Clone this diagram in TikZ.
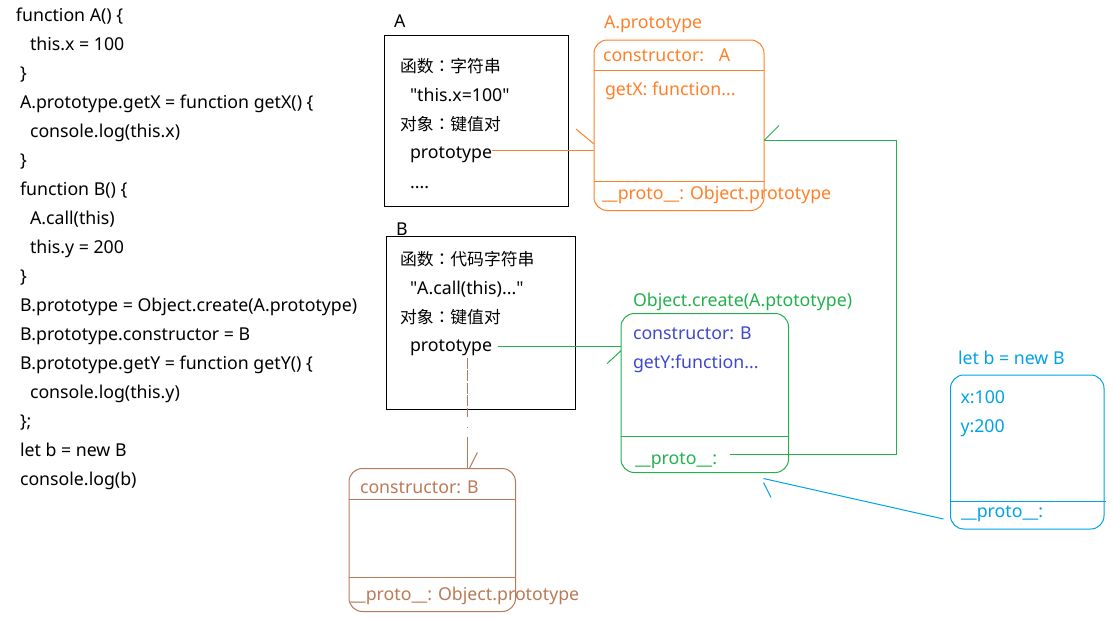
\documentclass[tikz,border=0pt]{standalone}
\usepackage{fontspec}
\setmainfont{Noto Sans}
\newfontfamily\qfont{Noto Sans}[Ligatures=TeXOff]
\newfontfamily\cjk{Noto Sans CJK SC}
\newfontfamily\cjkjp{Noto Sans CJK JP}
\newcommand\zhtext[1]{{\fontsize{12.6}{14}\selectfont\cjk #1}}
\newcommand\zhcolon{{\fontsize{12.6}{14}\selectfont\cjkjp ：}}
\newcommand\dq{{\qfont\char34}}
\usetikzlibrary{fit}
\definecolor{porange}{HTML}{FF7F27}
\definecolor{pgreen}{HTML}{22B14C}
\definecolor{pblue}{HTML}{00A2E8}
\definecolor{pbrown}{HTML}{B97A57}
\definecolor{pindigo}{HTML}{3F48CC}
\begin{document}
\begin{tikzpicture}[x=0.75pt,y=-0.75pt,
  every node/.style={inner sep=0pt, outer sep=0pt, font=\fontsize{13.3}{15}\selectfont},
  txt/.style={anchor=base west},
  sqbox/.style={draw=black, line width=0.75pt, fit=#1},
  rbox/.style={draw, line width=0.75pt, rounded corners=10pt},
  thin/.style={line width=0.75pt}]
\useasboundingbox (0,0) rectangle (1113,618);

% code
\node[txt] (c1) at (16,21.5) {function A() \{};
\node[txt] (c2) at (30,50.5) {this.x = 100};
\node[txt] (c3) at (20,79.5) {\}};
\node[txt] (c4) at (20,108.5) {A.prototype.getX = function getX() \{};
\node[txt] (c5) at (30,137.5) {console.log(this.x)};
\node[txt] (c6) at (20,166.5) {\}};
\node[txt] (c7) at (20,195.5) {function B() \{};
\node[txt] (c8) at (30,224.5) {A.call(this)};
\node[txt] (c9) at (30,253.5) {this.y = 200};
\node[txt] (c10) at (20,282.5) {\}};
\node[txt] (c11) at (20,311.5) {B.prototype = Object.create(A.prototype)};
\node[txt] (c12) at (20,340.5) {B.prototype.constructor = B};
\node[txt] (c13) at (20,369.5) {B.prototype.getY = function getY() \{};
\node[txt] (c14) at (30,398.5) {console.log(this.y)};
\node[txt] (c15) at (20,427.5) {\};};
\node[txt] (c16) at (20,456.5) {let b = new B};
\node[txt] (c17) at (20,485.5) {console.log(b)};

% Box A
\coordinate (a1) at (384.5,35.5); \coordinate (a2) at (568.5,206);
\node[sqbox={(a1)(a2)}] (Abox) {};
\node[txt] (Alab) at (394,27) {A};
\node[txt] (A1) at (400,72.5) {\zhtext{函数}\zhcolon\zhtext{字符串}};
\node[txt] (A2) at (410,101) {\dq this.x=100\dq};
\node[txt] (A3) at (400,130) {\zhtext{对象}\zhcolon\zhtext{键值对}};
\node[txt] (Aproto) at (410,158.5) {prototype};
\node[txt] (A5) at (410,188) {....};

% A.prototype box
\draw[rbox, porange] (594,40) rectangle (764,210.5);
\coordinate (ap1) at (594,40); \coordinate (ap2) at (764,210.5);
\node[fit=(ap1)(ap2)] (AP) {};
\draw[thin, porange] (AP.west |- 0,70.5) -- (AP.east |- 0,70.5);
\draw[thin, porange] (AP.west |- 0,181.5) -- (AP.east |- 0,181.5);
\node[txt, porange] (APlab) at (604,28) {A.prototype};
\node[txt, porange] (APc) at (603,61.5) {constructor:\hspace{11pt}A};
\node[txt, porange] (APg) at (605,95) {getX: function...};
\node[txt, porange] (APp) at (602,199) {\_\_proto\_\_: Object.prototype};

% orange connector
\coordinate (o1) at (492,150);
\draw[thin, porange] (o1) -- (AP.west |- o1) coordinate (o2);
\draw[thin, porange] ([yshift=4.5pt]o2) -- ++(-18,-15);

% Box B
\coordinate (b1) at (386.5,236.5); \coordinate (b2) at (575.5,409.5);
\node[sqbox={(b1)(b2)}] (Bbox) {};
\node[txt] (Blab) at (396,235) {B};
\node[txt] (B1) at (400,265) {\zhtext{函数}\zhcolon\zhtext{代码字符串}};
\node[txt] (B2) at (410,294) {\dq A.call(this)...\dq};
\node[txt] (B3) at (400,323) {\zhtext{对象}\zhcolon\zhtext{键值对}};
\node[txt] (Bproto) at (410,351.5) {prototype};

% green box
\draw[rbox, pgreen] (621,313.5) rectangle (788.5,472.5);
\coordinate (g1) at (621,313.5); \coordinate (g2) at (788.5,472.5);
\node[fit=(g1)(g2)] (G) {};
\draw[thin, pgreen] (G.west |- 0,436) -- (G.east |- 0,436);
\node[txt, pgreen] (Glab) at (633,306) {Object.create(A.ptototype)};
\node[txt, pindigo] (Gc) at (633,339.5) {constructor: B};
\node[txt, pindigo] (Gg) at (633,368.5) {getY:function...};
\node[txt, pgreen] (Gp) at (635,464.5) {\_\_proto\_\_:};

% green connector B.prototype -> green box
\coordinate (gb1) at (498,346);
\draw[thin, pgreen] (gb1) -- (G.west |- gb1) coordinate (gb2);
\draw[thin, pgreen] ([yshift=-3.5pt]gb2) -- ++(-14,13);

% green connector green __proto__ -> A.prototype
\coordinate (gp1) at (730,454);
\coordinate (gp2) at (896,454);
\coordinate (gp3) at (896,140.5);
\draw[thin, pgreen] (gp1) -- (gp2) -- (gp3) -- (AP.east |- gp3) coordinate (gp4);
\draw[thin, pgreen] (gp4) -- ++(15,-15);

% brown box
\draw[rbox, pbrown] (349,468.5) rectangle (515.5,611.5);
\coordinate (br1) at (349,468.5); \coordinate (br2) at (515.5,611.5);
\node[fit=(br1)(br2)] (BR) {};
\draw[thin, pbrown] (BR.west |- 0,499.5) -- (BR.east |- 0,499.5);
\draw[thin, pbrown] (BR.west |- 0,577.5) -- (BR.east |- 0,577.5);
\node[txt, pbrown] (BRc) at (360,493.5) {constructor: B};
\node[txt, pbrown] (BRp) at (350,600) {\_\_proto\_\_: Object.prototype};

% brown connector
\coordinate (bd1) at (467.5,358);
\draw[thin, pbrown, dash pattern=on 8.25pt off 1.1pt on 8.25pt off 1.1pt on 8.25pt off 1.1pt on 8.25pt off 1.1pt on 6.75pt off 7.5pt on 0.75pt off 6.75pt on 30pt]
  (bd1) -- (BR.north -| bd1) coordinate (bd2);
\draw[thin, pbrown] ([xshift=1.4pt]bd2) -- ++(8,-16);

% blue box
\draw[rbox, pblue] (950.5,375) rectangle (1104,529);
\coordinate (bl1) at (950.5,375); \coordinate (bl2) at (1104,529);
\node[fit=(bl1)(bl2)] (BL) {};
\draw[thin, pblue] (BL.west |- 0,501.5) -- ([xshift=1.5pt]BL.east |- 0,501.5);
\node[txt, pblue] (BLlab) at (958,364) {let b = new B};
\node[txt, pblue] (BLx) at (960.5,403.5) {x:100};
\node[txt, pblue] (BLy) at (960.5,432.5) {y:200};
\node[txt, pblue] (BLp) at (961,517) {\_\_proto\_\_:};

% blue connector
\coordinate (bl3) at (943.5,519);
\coordinate (bl4) at (763.5,478.5);
\draw[thin, pblue] (bl3) -- (bl4);
\draw[thin, pblue] ([yshift=-3pt]bl4) -- ++(7.5,15);
\end{tikzpicture}
\end{document}
